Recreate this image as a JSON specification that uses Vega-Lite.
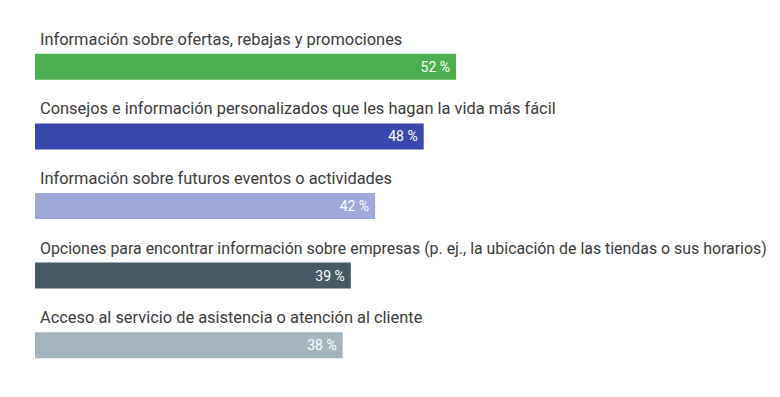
{
  "$schema": "https://vega.github.io/schema/vega-lite/v6.json",
  "width": 745,
  "height": 348,
  "autosize": {"type": "none"},
  "padding": {"left": 35, "top": 32, "right": 0, "bottom": 17},
  "background": "white",
  "config": {"view": {"stroke": null}, "font": "Roboto"},
  "data": {
    "values": [
      {"category": "Información sobre ofertas, rebajas y promociones", "value": 52, "label": "52 %"},
      {"category": "Consejos e información personalizados que les hagan la vida más fácil", "value": 48, "label": "48 %"},
      {"category": "Información sobre futuros eventos o actividades", "value": 42, "label": "42 %"},
      {"category": "Opciones para encontrar información sobre empresas (p. ej., la ubicación de las tiendas o sus horarios)", "value": 39, "label": "39 %"},
      {"category": "Acceso al servicio de asistencia o atención al cliente", "value": 38, "label": "38 %"}
    ]
  },
  "encoding": {
    "y": {
      "field": "category",
      "type": "nominal",
      "sort": null,
      "axis": null,
      "scale": {"paddingInner": 0, "paddingOuter": 0}
    }
  },
  "layer": [
    {
      "mark": {"type": "bar", "height": 26, "cornerRadius": 0},
      "encoding": {
        "x": {"field": "value", "type": "quantitative", "axis": null, "scale": {"domain": [0, 92], "nice": false, "zero": true}},
        "color": {
          "field": "category",
          "type": "nominal",
          "sort": null,
          "legend": null,
          "scale": {
            "domain": [
              "Información sobre ofertas, rebajas y promociones",
              "Consejos e información personalizados que les hagan la vida más fácil",
              "Información sobre futuros eventos o actividades",
              "Opciones para encontrar información sobre empresas (p. ej., la ubicación de las tiendas o sus horarios)",
              "Acceso al servicio de asistencia o atención al cliente"
            ],
            "range": ["#4CAF50", "#3949AB", "#9FA8DA", "#455A64", "#A5B5BF"]
          }
        }
      }
    },
    {
      "mark": {"type": "text", "align": "right", "baseline": "middle", "dx": -6, "dy": 1, "fontSize": 14, "color": "white"},
      "encoding": {
        "x": {"field": "value", "type": "quantitative"},
        "text": {"field": "label"}
      }
    },
    {
      "mark": {"type": "text", "align": "left", "baseline": "alphabetic", "dx": 5, "dy": -22, "color": "#3c3c3c"},
      "encoding": {
        "x": {"datum": 0, "type": "quantitative"},
        "text": {"field": "category"},
        "size": {"condition": {"test": "indexof(datum.category, 'Opciones') == 0", "value": 15.9}, "value": 16.4}
      }
    }
  ]
}
